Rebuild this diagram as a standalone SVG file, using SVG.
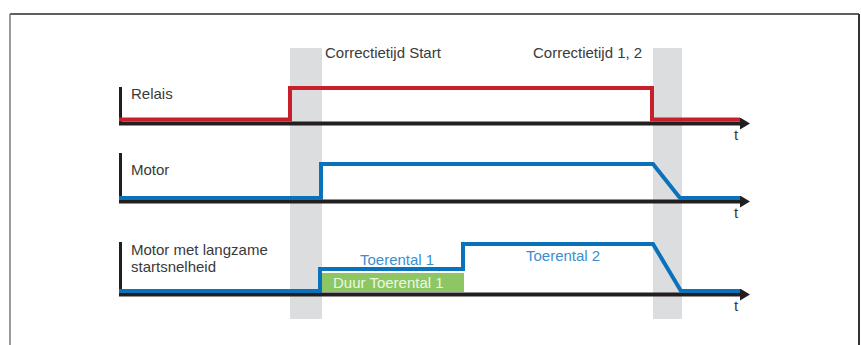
<svg xmlns="http://www.w3.org/2000/svg" width="861" height="345" viewBox="0 0 861 345">
<defs>
<style>
text{font-family:"Liberation Sans",Arial,sans-serif;font-size:15px;fill:#3a3a3a}
.band{fill:#dcdddf}
.axis{stroke:#231f20;stroke-width:4;fill:none}
.red{stroke:#c8202a;stroke-width:4;fill:none}
.blue{stroke:#0a72ba;stroke-width:4;fill:none}
.bl{fill:#3a8fd0}
</style>
<marker id="arr" viewBox="0 0 10 12" refX="0" refY="6" markerWidth="10" markerHeight="12" markerUnits="userSpaceOnUse" orient="auto">
<path d="M0,0 L10,6 L0,12 Z" fill="#231f20"/>
</marker>
</defs>
<rect width="861" height="345" fill="#fff"/>
<g id="frame">
<line x1="10" y1="14" x2="859" y2="14" stroke="#2a2a2a" stroke-width="1.5"/>
<line x1="10" y1="14" x2="10" y2="345" stroke="#777" stroke-width="1.5"/>
<line x1="859" y1="14" x2="859" y2="345" stroke="#333" stroke-width="2"/>
</g>
<g id="bands">
<rect class="band" x="290" y="48" width="32" height="271"/>
<rect class="band" x="653" y="48" width="29" height="271"/>
<text x="325" y="58">Correctietijd Start</text>
<text x="533" y="58">Correctietijd 1, 2</text>
</g>
<g id="relais">
<line x1="120.5" y1="87" x2="120.5" y2="125" stroke="#231f20" stroke-width="3"/>
<path class="axis" d="M119,123.5 H740" marker-end="url(#arr)"/>
<path class="red" d="M119,119.5 H290 V88 H652 V119.5 H740"/>
<text x="131" y="99">Relais</text>
<text x="734" y="140">t</text>
</g>
<g id="motor">
<line x1="120.5" y1="153" x2="120.5" y2="203" stroke="#231f20" stroke-width="3"/>
<path class="axis" d="M119,201.5 H740" marker-end="url(#arr)"/>
<path class="blue" d="M119,198 H321 V164 H653 L680,198 H740"/>
<text x="131" y="175">Motor</text>
<text x="734" y="218">t</text>
</g>
<g id="motor-langzaam">
<line x1="120.5" y1="242" x2="120.5" y2="296" stroke="#231f20" stroke-width="3"/>
<rect x="322" y="273" width="142" height="19" fill="#8cc763"/>
<text x="333" y="288" style="fill:#eef6e6">Duur Toerental 1</text>
<path class="axis" d="M119,294.5 H740" marker-end="url(#arr)"/>
<path class="blue" d="M119,291 H320 V269 H463 V244 H653 L681,291 H740"/>
<text x="131" y="255">Motor met langzame</text>
<text x="131" y="272">startsnelheid</text>
<text class="bl" x="360" y="265">Toerental 1</text>
<text class="bl" x="526" y="261">Toerental 2</text>
<text x="734" y="311">t</text>
</g>
</svg>
